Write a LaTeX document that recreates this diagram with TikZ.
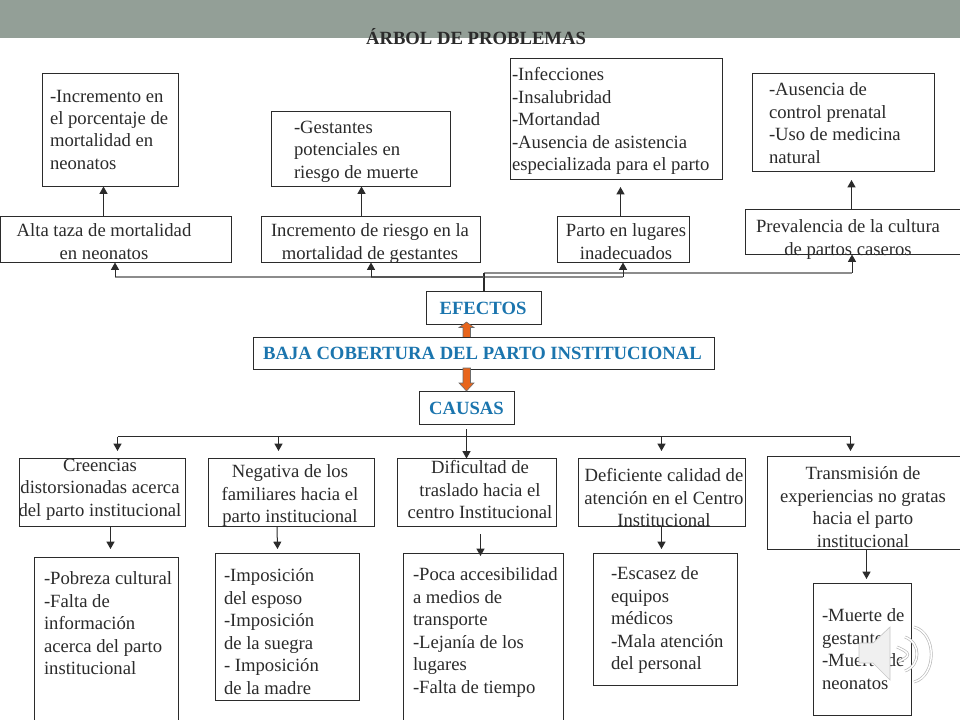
\documentclass[tikz,border=0pt]{standalone}
\usepackage{fontspec}
\setmainfont{Liberation Serif}
\usetikzlibrary{arrows.meta}
\definecolor{banner}{HTML}{939F97}
\definecolor{ink}{HTML}{2B2B2B}
\definecolor{bluetxt}{HTML}{1B75AE}
\definecolor{orangefill}{HTML}{E8651C}
\definecolor{greyline}{HTML}{8C8C8C}
\tikzset{
  x=0.75pt,y=-0.75pt,
  box/.style={draw=ink,line width=0.6pt,fill=white,inner sep=0pt,outer sep=0pt},
  txt/.style={inner sep=0pt,outer sep=0pt,text=ink,font=\fontsize{14}{16.85}\selectfont,align=left,anchor=north west,yshift=-0.6pt},
  ctr/.style={txt,align=center,anchor=north},
  head/.style={inner sep=0pt,outer sep=0pt,text=bluetxt,font=\fontsize{14}{16}\selectfont\bfseries},
  con/.style={draw=ink,line width=0.75pt,-{Triangle[length=5.5pt,width=6pt]}},
  greycon/.style={draw=greyline,line width=1.4pt},
  tip/.style={draw=ink,line width=0.75pt,-{Triangle[length=5.5pt,width=6pt]}},
  bigarrow/.style={draw=ink!70,line width=0.4pt,fill=orangefill}
}
\newcommand{\boxat}[5]{\node[box,anchor=north west,minimum width=#4*0.75pt-#2*0.75pt,minimum height=#5*0.75pt-#3*0.75pt] (#1) at (#2,#3) {};}
\begin{document}
\begin{tikzpicture}
\useasboundingbox (0,0) rectangle (960,720);
\fill[banner] (0,0) rectangle (960,38);
\node[inner sep=0pt,text=ink,font=\fontsize{14}{16}\selectfont\bfseries] (title) at (476,37) {ÁRBOL DE PROBLEMAS};

% effect detail boxes
\boxat{bA}{42.5}{73.5}{178.5}{186.5}
\node[txt] (tA) at (50,89) {-Incremento en\\el porcentaje de\\mortalidad en\\neonatos};
\boxat{bB}{271.5}{111.5}{450.5}{186.5}
\node[txt] (tB) at (294,120) {-Gestantes\\potenciales en\\riesgo de muerte};
\boxat{bC}{510.5}{58.5}{722.5}{179.5}
\node[txt] (tC) at (512,67) {-Infecciones\\-Insalubridad\\-Mortandad\\-Ausencia de asistencia\\especializada para el parto};
\boxat{bD}{752.5}{73.5}{934.5}{171.5}
\node[txt] (tD) at (769,82) {-Ausencia de\\control prenatal\\-Uso de medicina\\natural};

% effects
\boxat{eA}{0.5}{216.5}{231.5}{262.5}
\node[ctr] (teA) at (104,223) {Alta taza de mortalidad\\en neonatos};
\boxat{eB}{261.5}{216.5}{480.5}{262.5}
\node[ctr] (teB) at (370,223) {Incremento de riesgo en la\\mortalidad de gestantes};
\boxat{eC}{557.5}{216.5}{689.5}{262.5}
\node[ctr] (teC) at (626,223) {Parto en lugares\\inadecuados};
\boxat{eD}{745.5}{209.5}{965}{254.5}
\node[ctr] (teD) at (848,219) {Prevalencia de la cultura\\de partos caseros};

% centre
\boxat{ef}{426.5}{291.5}{541.5}{324.5}
\node[head] (tef) at (483,308.5) {EFECTOS};
\boxat{ca}{419.5}{391.5}{514.5}{424.5}
\node[head] (tca) at (466.5,408) {CAUSAS};
\path[bigarrow] (463,338) -- (463,327.5) -- (459,327.5) -- (466.5,322) -- (474,327.5) -- (470.5,327.5) -- (470.5,338) -- cycle;
\boxat{ba}{253.5}{337.5}{714.5}{369.5}
\node[head] (tba) at (482.5,353.5) {BAJA COBERTURA DEL PARTO INSTITUCIONAL};
\path[bigarrow] (463,368) -- (463,383) -- (459,383) -- (466.5,391) -- (474,383) -- (470.5,383) -- (470.5,368) -- cycle;

% causes
\boxat{cA}{19.5}{458.5}{185.5}{526.5}
\boxat{cB}{208.5}{458.5}{374.5}{526.5}
\boxat{cC}{397.5}{458.5}{556.5}{526.5}
\boxat{cD}{578.5}{458.5}{745.5}{526.5}
\boxat{cE}{767.5}{456.5}{965}{549.5}
\node[ctr] (tcA) at (100,458) {Creencias\\distorsionadas acerca\\del parto institucional};
\node[ctr] (tcB) at (290,464) {Negativa de los\\familiares hacia el\\parto institucional};
\node[ctr] (tcC) at (480,460) {Dificultad de\\traslado hacia el\\centro Institucional};
\node[ctr] (tcD) at (664,468) {Deficiente calidad de\\atención en el Centro\\Institucional};
\node[ctr] (tcE) at (863,466) {Transmisión de\\experiencias no gratas\\hacia el parto\\institucional};

% cause detail boxes
\boxat{dA}{34.5}{557.5}{178.5}{730}
\node[txt] (tdA) at (44,571) {-Pobreza cultural\\-Falta de\\información\\acerca del parto\\institucional};
\boxat{dB}{215.5}{553.5}{359.5}{700.5}
\node[txt] (tdB) at (224,568) {-Imposición\\del esposo\\-Imposición\\de la suegra\\- Imposición\\de la madre};
\boxat{dC}{403.5}{553.5}{563.5}{730}
\node[txt] (tdC) at (413,567) {-Poca accesibilidad\\a medios de\\transporte\\-Lejanía de los\\lugares\\-Falta de tiempo};
\boxat{dD}{593.5}{553.5}{737.5}{685.5}
\node[txt] (tdD) at (611,566) {-Escasez de\\equipos\\médicos\\-Mala atención\\del personal};
\boxat{dE}{813.5}{583.5}{911.5}{715.5}
\node[txt] (tdE) at (822,608) {-Muerte de\\gestantes\\-Muerte de\\neonatos};

% connectors up
\coordinate (jA) at (103.5,216.5);
\draw[con] (eA.north -| jA) -- (bA.south -| jA);
\coordinate (jB) at (361.5,216.5);
\draw[con] (eB.north -| jB) -- (bB.south -| jB);
\coordinate (jC) at (620.5,187);
\draw[con] (eC.north -| jC) -- (jC);
\coordinate (jD) at (851.5,180);
\draw[con] (eD.north -| jD) -- (jD);

% effect trunk
\coordinate (fA) at (115,277);
\coordinate (fB) at (371,277);
\coordinate (fC) at (623,277);
\coordinate (fD) at (852,273);
\coordinate (fT) at (484,273);
\draw[greycon] (fA) -- (fC);
\draw[greycon] (fT) -- (fD);
\draw[draw=ink,line width=1pt] (fT |- ef.north) -- (fT);
\draw[draw=ink!80,line width=1.4pt] (fB) -- (484,277);
\draw[tip] (fA) -- (fA |- eA.south);
\draw[tip] (fB) -- (fB |- eB.south);
\draw[tip] (fC) -- (fC |- eC.south);
\draw[tip] (fD) -- (fD |- eD.south);

% cause trunk
\coordinate (gA) at (117.5,436.5);
\coordinate (gB) at (278.5,436.5);
\coordinate (gC) at (466.5,429);
\coordinate (gD) at (661.5,436.5);
\coordinate (gE) at (850.5,436.5);
\draw[draw=ink,line width=0.75pt] (gA) -- (gE);
\draw[con] (gA) -- (117.5,451);
\draw[con] (gB) -- (278.5,451);
\draw[con] (gC) -- (gC |- cC.north);
\draw[con] (gD) -- (661.5,451);
\draw[con] (gE) -- (850.5,451);

% cause to detail
\draw[con] (110.5,526.5) -- (110.5,549);
\draw[con] (277,526.5) -- (277.5,549);
\draw[con] (480.5,534) -- (480.5,556);
\draw[con] (661.5,526.5) -- (661.5,549);
\draw[con] (866.5,549.5) -- (866.5,579);

% speaker icon
\draw[fill=white!94!black,draw=white!78!black,line width=0.5pt] (859,643) -- (873,643) -- (890,627) -- (890,680) -- (873,663) -- (859,663) -- cycle;
\foreach \ya/\xa/\yb/\xb/\xc in {647/897/662/898/911, 637/905/671/905/921, 627/914/682/914/937}{
  \draw[white!72!black,line width=2.1pt] (\xa,\ya) .. controls (\xc,\ya+6) and (\xc,\yb-6) .. (\xb,\yb);
  \draw[white,line width=1.1pt] (\xa,\ya) .. controls (\xc,\ya+6) and (\xc,\yb-6) .. (\xb,\yb);
}
\end{tikzpicture}
\end{document}
